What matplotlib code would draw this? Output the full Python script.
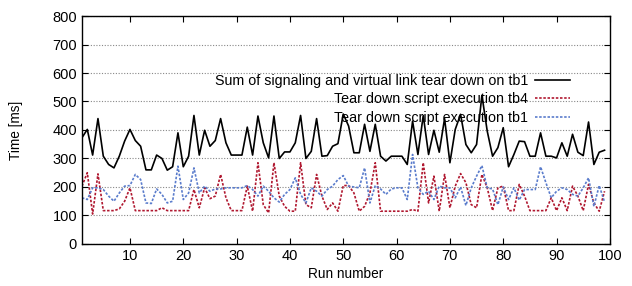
import numpy as np
import matplotlib
matplotlib.use('Agg')
import matplotlib.pyplot as plt

plt.rcParams['font.family'] = ['Liberation Sans', 'DejaVu Sans']

runs = np.arange(1, 100)

sum_tb1 = [373, 402, 312, 440, 308, 279, 267, 308, 361, 402,
           363, 343, 260, 260, 312, 300, 259, 271, 390, 271,
           308, 451, 312, 399, 343, 363, 440, 355, 312, 312,
           312, 410, 312, 449, 355, 302, 449, 300, 323, 323,
           355, 451, 300, 325, 440, 308, 310, 343, 352, 456,
           414, 320, 320, 420, 325, 420, 308, 291, 308, 308,
           308, 279, 431, 314, 451, 314, 399, 322, 440, 285,
           402, 455, 349, 320, 349, 522, 396, 308, 338, 408,
           271, 314, 361, 359, 308, 308, 390, 308, 308, 302,
           355, 308, 385, 322, 310, 428, 279, 322, 329]

script_tb4 = [203, 250, 105, 246, 117, 117, 117, 123, 150, 197,
              117, 117, 117, 117, 117, 127, 117, 117, 117, 117,
              117, 191, 127, 197, 159, 168, 244, 162, 117, 117,
              117, 203, 115, 285, 138, 109, 285, 168, 132, 115,
              115, 285, 138, 127, 244, 168, 121, 144, 115, 205,
              205, 179, 115, 132, 179, 285, 115, 115, 115, 115,
              115, 115, 121, 115, 285, 144, 238, 115, 244, 127,
              203, 247, 215, 138, 127, 244, 197, 117, 197, 203,
              117, 117, 209, 168, 117, 117, 117, 117, 162, 117,
              162, 117, 203, 168, 117, 209, 144, 115, 185]

script_tb1 = [162, 156, 197, 197, 191, 168, 150, 179, 203, 205,
              244, 226, 144, 142, 193, 174, 144, 150, 273, 156,
              179, 267, 179, 203, 185, 193, 193, 197, 197, 197,
              197, 205, 191, 168, 203, 185, 162, 147, 174, 191,
              232, 174, 144, 197, 185, 168, 191, 203, 226, 240,
              203, 200, 197, 267, 144, 205, 193, 174, 193, 197,
              197, 156, 314, 197, 174, 185, 156, 203, 197, 197,
              162, 200, 135, 197, 238, 275, 197, 193, 138, 200,
              156, 197, 154, 191, 191, 191, 271, 215, 162, 185,
              197, 191, 174, 168, 197, 232, 132, 205, 147]

labels = ['Sum of signaling and virtual link tear down on tb1',
          'Tear down script execution tb4',
          'Tear down script execution tb1']

fig = plt.figure(figsize=(6.32, 2.86), dpi=100)
ax = fig.add_axes([0.1297, 0.147, 0.8353, 0.797])

ax.plot(runs, sum_tb1, color='black', lw=1.2, label=labels[0])
ax.plot(runs, script_tb4, color='#b01830', lw=1.2, linestyle=(0, (1.5, 1)), label=labels[1])
ax.plot(runs, script_tb1, color='#5a7ccc', lw=1.2, linestyle=(0, (1.5, 1)), label=labels[2])

ax.set_xlim(1, 100)
ax.set_ylim(0, 800)
ax.set_xticks(np.arange(10, 101, 10))
ax.set_yticks(np.arange(0, 801, 100))
ax.yaxis.grid(True, linestyle=(0, (1, 1.5)), color='#888888', lw=0.8)
ax.tick_params(direction='in', top=True, right=True, labelsize=10.5, length=4)
for s in ax.spines.values():
    s.set_linewidth(1.0)

ax.set_xlabel('Run number', fontsize=9.8, labelpad=3)
ax.set_ylabel('Time [ms]', fontsize=9.8, labelpad=21)

ax.legend(loc='upper right', bbox_to_anchor=(0.924, 0.745), frameon=False,
          markerfirst=False, alignment='right', fontsize=10.3, handlelength=2.4,
          labelspacing=0.3, handletextpad=0.5, borderpad=0, borderaxespad=0)

fig.savefig('out.png', dpi=100)
